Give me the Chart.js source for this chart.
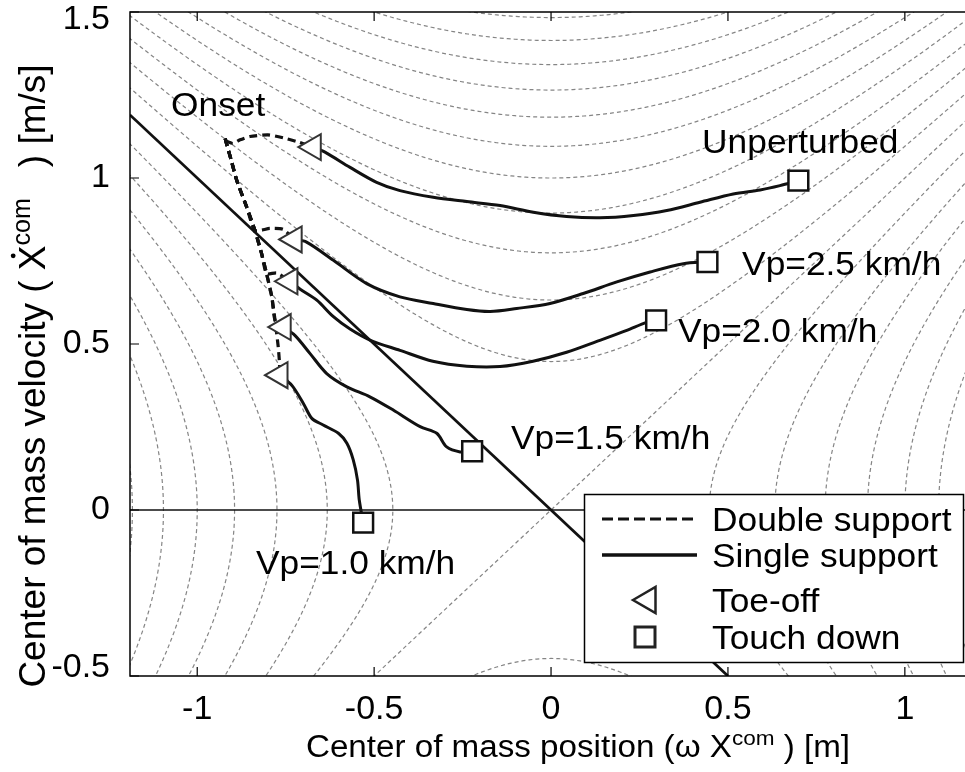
<!DOCTYPE html>
<html>
<head>
<meta charset="utf-8">
<title>Center of mass phase plane</title>
<script src="https://cdn.jsdelivr.net/npm/chart.js@4.4.1/dist/chart.umd.min.js"></script>
<style>
  html, body { margin: 0; padding: 0; background: #fff; }
  #wrap { width: 965px; height: 772px; }
</style>
</head>
<body>
<div id="wrap"><canvas id="chartCanvas" width="965" height="772"></canvas></div>
<script>
// axes
const xTicks = [-1, -0.5, 0, 0.5, 1];
const yTicks = [-0.5, 0, 0.5, 1, 1.5];
const xRange = [-1.19, 1.17];
const yRange = [-0.5, 1.5];

// levels of v^2 - x^2 for the dotted background curves
const energyLevels = [-1.4, -1.2, -1.0, -0.8, -0.6, -0.4, -0.2, 0, 0.2, 0.4, 0.6, 0.8, 1.0, 1.2, 1.4, 1.6, 1.8, 2.0, 2.2];

const captureLine = [[-1.19, 1.19], [0.5, -0.5]];
const zeroLine = [[-1.19, 0], [1.17, 0]];

// double support (dashed), from onset to toe-off
const unperturbedDouble = [[-0.921, 1.112], [-0.899, 1.104], [-0.879, 1.115], [-0.851, 1.125], [-0.800, 1.130], [-0.757, 1.121], [-0.716, 1.109], [-0.672, 1.093]];
const vp25Double = [[-0.921, 1.119], [-0.917, 1.103], [-0.903, 1.050], [-0.888, 0.992], [-0.860, 0.912], [-0.837, 0.842], [-0.795, 0.848], [-0.757, 0.845], [-0.726, 0.815]];
const vp20Double = [[-0.921, 1.119], [-0.917, 1.103], [-0.903, 1.050], [-0.888, 0.992], [-0.860, 0.912], [-0.837, 0.842], [-0.818, 0.772], [-0.804, 0.712], [-0.775, 0.714], [-0.738, 0.689]];
const vp15Double = [[-0.921, 1.119], [-0.917, 1.103], [-0.903, 1.050], [-0.888, 0.992], [-0.860, 0.912], [-0.837, 0.842], [-0.818, 0.772], [-0.804, 0.712], [-0.789, 0.641], [-0.780, 0.571], [-0.757, 0.551]];
const vp10Double = [[-0.921, 1.119], [-0.917, 1.103], [-0.903, 1.050], [-0.888, 0.992], [-0.860, 0.912], [-0.837, 0.842], [-0.818, 0.772], [-0.804, 0.712], [-0.789, 0.641], [-0.780, 0.571], [-0.771, 0.491], [-0.768, 0.451], [-0.766, 0.406]];

// single support (solid), from toe-off to touch down
const unperturbedSingle = [[-0.672, 1.093], [-0.639, 1.078], [-0.568, 1.032], [-0.493, 0.987], [-0.427, 0.962], [-0.333, 0.942], [-0.238, 0.929], [-0.144, 0.917], [-0.050, 0.897], [0.044, 0.884], [0.138, 0.880], [0.233, 0.887], [0.327, 0.902], [0.421, 0.927], [0.515, 0.952], [0.591, 0.964], [0.647, 0.977], [0.699, 0.992]];
const vp25Single = [[-0.726, 0.815], [-0.691, 0.807], [-0.615, 0.752], [-0.521, 0.682], [-0.427, 0.642], [-0.333, 0.622], [-0.238, 0.604], [-0.172, 0.598], [-0.097, 0.607], [-0.003, 0.622], [0.091, 0.652], [0.186, 0.687], [0.280, 0.717], [0.374, 0.742], [0.442, 0.747]];
const vp20Single = [[-0.738, 0.689], [-0.709, 0.665], [-0.662, 0.632], [-0.616, 0.583], [-0.568, 0.545], [-0.512, 0.512], [-0.427, 0.481], [-0.334, 0.448], [-0.238, 0.433], [-0.144, 0.432], [-0.051, 0.448], [0.044, 0.475], [0.138, 0.511], [0.214, 0.541], [0.270, 0.565], [0.297, 0.571]];
const vp15Single = [[-0.757, 0.551], [-0.724, 0.526], [-0.681, 0.471], [-0.634, 0.411], [-0.577, 0.371], [-0.512, 0.341], [-0.446, 0.301], [-0.370, 0.251], [-0.323, 0.231], [-0.295, 0.190], [-0.257, 0.175], [-0.223, 0.177]];
const vp10Single = [[-0.766, 0.406], [-0.733, 0.376], [-0.700, 0.321], [-0.676, 0.276], [-0.644, 0.256], [-0.601, 0.231], [-0.577, 0.201], [-0.559, 0.151], [-0.547, 0.090], [-0.542, 0.030], [-0.531, -0.038]];

const curveLabels = ['Unperturbed', 'Vp=2.5 km/h', 'Vp=2.0 km/h', 'Vp=1.5 km/h', 'Vp=1.0 km/h'];
const legendLabels = ['Double support', 'Single support', 'Toe-off', 'Touch down'];

const FONT = "'Liberation Sans', Arial, Helvetica, sans-serif";
const STRETCH = 1.07; // text in the picture is a little wider than plain Arial

const toXY = pts => pts.map(p => ({ x: p[0], y: p[1] }));
const doubles = [unperturbedDouble, vp25Double, vp20Double, vp15Double, vp10Double];
const singles = [unperturbedSingle, vp25Single, vp20Single, vp15Single, vp10Single];

function lineSet(pts, opts) {
    return Object.assign({
        data: toXY(pts),
        showLine: true,
        borderColor: '#111',
        borderWidth: 3,
        pointRadius: 0,
        tension: 0.3,
        order: 1
    }, opts);
}

const datasets = [];
datasets.push(lineSet(zeroLine, { borderWidth: 1.3, tension: 0, order: 3 }));
datasets.push(lineSet(captureLine, { borderWidth: 2.8, tension: 0, order: 2 }));
doubles.forEach(d => datasets.push(lineSet(d, { borderWidth: 3.2, borderDash: [8, 5], tension: 0.2 })));
singles.forEach(s => datasets.push(lineSet(s, {})));
datasets.push({
    data: toXY(singles.map(s => s[0])),
    showLine: false,
    pointStyle: 'triangle',
    pointRotation: -90,
    pointRadius: 15,
    pointBorderWidth: 2,
    pointBorderColor: '#333',
    pointBackgroundColor: '#fff',
    order: 0
});
datasets.push({
    data: toXY(singles.map(s => s[s.length - 1])),
    showLine: false,
    pointStyle: 'rect',
    pointRadius: 14,
    pointBorderWidth: 2.5,
    pointBorderColor: '#111',
    pointBackgroundColor: '#fff',
    order: 0
});

function stretchText(ctx, str, x, y, size) {
    ctx.save();
    ctx.translate(x, y);
    ctx.scale(STRETCH, 1);
    ctx.font = size + 'px ' + FONT;
    ctx.fillText(str, 0, 0);
    ctx.restore();
}

// text with a raised "com" part
function richWidth(ctx, parts, size) {
    let w = 0;
    parts.forEach(p => {
        ctx.font = (p.sup ? size * 0.68 : size) + 'px ' + FONT;
        w += ctx.measureText(p.t).width;
    });
    return w;
}
function richText(ctx, parts, x, y, size) {
    let cx = x;
    parts.forEach(p => {
        const s = p.sup ? size * 0.68 : size;
        ctx.font = s + 'px ' + FONT;
        ctx.fillText(p.t, cx, p.sup ? y - size * 0.4 : y);
        const w = ctx.measureText(p.t).width;
        if (p.dot) {
            ctx.beginPath();
            ctx.arc(cx + w / 2 + 2, y - size * 0.86, size * 0.065, 0, Math.PI * 2);
            ctx.fill();
        }
        cx += w;
    });
}

function triangleLeft(ctx, cx, cy, r) {
    ctx.beginPath();
    ctx.moveTo(cx - r, cy);
    ctx.lineTo(cx + r / 2, cy - r * 0.866);
    ctx.lineTo(cx + r / 2, cy + r * 0.866);
    ctx.closePath();
    ctx.fill();
    ctx.stroke();
}

const AREA = { left: 130, top: 12, right: 965, bottom: 676 };

const phasePlane = {
    id: 'phasePlane',
    // pin the plot box to where it sits in the picture
    afterLayout(chart) {
        const ca = chart.chartArea;
        Object.assign(ca, AREA, { width: AREA.right - AREA.left, height: AREA.bottom - AREA.top });
        const { x, y } = chart.scales;
        Object.assign(x, { left: AREA.left, right: AREA.right, width: AREA.right - AREA.left, top: AREA.bottom, bottom: chart.height, height: chart.height - AREA.bottom });
        Object.assign(y, { left: 0, right: AREA.left, width: AREA.left, top: AREA.top, bottom: AREA.bottom, height: AREA.bottom - AREA.top });
        x.configure();
        y.configure();
    },
    beforeDatasetsDraw(chart) {
        const { ctx, chartArea: a, scales: { x, y } } = chart;
        ctx.save();
        ctx.beginPath();
        ctx.rect(a.left, a.top, a.right - a.left, a.bottom - a.top);
        ctx.clip();
        ctx.strokeStyle = '#858585';
        ctx.lineWidth = 1.2;
        ctx.setLineDash([4, 3]);
        const n = 240;
        const x0 = xRange[0] - 0.05, x1 = xRange[1] + 0.05;
        const y0 = yRange[0] - 0.05, y1 = yRange[1] + 0.05;
        energyLevels.forEach(c => {
            const branches = [];
            if (c > 0) {
                [1, -1].forEach(s => {
                    const pts = [];
                    for (let i = 0; i <= n; i++) {
                        const xv = x0 + (x1 - x0) * i / n;
                        pts.push([xv, s * Math.sqrt(c + xv * xv)]);
                    }
                    branches.push(pts);
                });
            } else if (c < 0) {
                [1, -1].forEach(s => {
                    const pts = [];
                    for (let i = 0; i <= n; i++) {
                        const yv = y0 + (y1 - y0) * i / n;
                        pts.push([s * Math.sqrt(-c + yv * yv), yv]);
                    }
                    branches.push(pts);
                });
            } else {
                branches.push([[x0, x0], [x1, x1]]);
                branches.push([[x0, -x0], [x1, -x1]]);
            }
            branches.forEach(pts => {
                ctx.beginPath();
                pts.forEach((p, i) => {
                    const px = x.getPixelForValue(p[0]);
                    const py = y.getPixelForValue(p[1]);
                    if (i) ctx.lineTo(px, py); else ctx.moveTo(px, py);
                });
                ctx.stroke();
            });
        });
        ctx.restore();
    },
    afterDatasetsDraw(chart) {
        const { ctx, chartArea: a, scales: { x, y } } = chart;
        ctx.save();

        // frame and inward ticks
        ctx.strokeStyle = '#000';
        ctx.lineWidth = 1.5;
        ctx.beginPath();
        ctx.moveTo(a.right + 2, a.top);
        ctx.lineTo(a.left, a.top);
        ctx.lineTo(a.left, a.bottom);
        ctx.lineTo(a.right + 2, a.bottom);
        ctx.stroke();
        ctx.lineWidth = 1.2;
        ctx.beginPath();
        xTicks.forEach(v => {
            const px = x.getPixelForValue(v);
            ctx.moveTo(px, a.bottom); ctx.lineTo(px, a.bottom - 9);
            ctx.moveTo(px, a.top); ctx.lineTo(px, a.top + 9);
        });
        yTicks.forEach(v => {
            const py = y.getPixelForValue(v);
            ctx.moveTo(a.left, py); ctx.lineTo(a.left + 9, py);
        });
        ctx.stroke();

        // curve labels
        ctx.fillStyle = '#000';
        ctx.textBaseline = 'alphabetic';
        ctx.textAlign = 'left';
        const anchors = [[0.427, 1.075], [0.540, 0.708], [0.359, 0.506], [-0.113, 0.184], [-0.834, -0.193]];
        curveLabels.forEach((t, i) => {
            stretchText(ctx, t, x.getPixelForValue(anchors[i][0]), y.getPixelForValue(anchors[i][1]), 33);
        });
        stretchText(ctx, 'Onset', x.getPixelForValue(-1.074), y.getPixelForValue(1.187), 33);

        // legend
        const L = { left: 584, top: 494, right: 963, bottom: 662 };
        ctx.fillStyle = '#fff';
        ctx.fillRect(L.left, L.top, L.right - L.left, L.bottom - L.top);
        ctx.strokeStyle = '#000';
        ctx.lineWidth = 1.5;
        ctx.strokeRect(L.left + 0.5, L.top + 0.5, L.right - L.left, L.bottom - L.top);
        const rows = [519, 555, 600, 637];
        ctx.strokeStyle = '#111';
        ctx.lineWidth = 2.8;
        ctx.setLineDash([11, 5]);
        ctx.beginPath(); ctx.moveTo(602, rows[0]); ctx.lineTo(697, rows[0]); ctx.stroke();
        ctx.setLineDash([]);
        ctx.lineWidth = 3.5;
        ctx.beginPath(); ctx.moveTo(602, rows[1]); ctx.lineTo(697, rows[1]); ctx.stroke();
        ctx.fillStyle = '#fff';
        ctx.strokeStyle = '#222';
        ctx.lineWidth = 2.5;
        triangleLeft(ctx, 648, rows[2], 15);
        ctx.lineWidth = 3;
        ctx.fillRect(635, rows[3] - 10, 20, 20);
        ctx.strokeRect(635, rows[3] - 10, 20, 20);
        ctx.fillStyle = '#000';
        legendLabels.forEach((t, i) => stretchText(ctx, t, 712, rows[i] + 12, 33));

        // axis titles
        const xParts = [{ t: 'Center of mass position (\u03c9 X' }, { t: 'com', sup: true }, { t: ' ) [m]' }];
        const xs = 31;
        ctx.save();
        const xw = richWidth(ctx, xParts, xs) * STRETCH;
        ctx.translate(578 - xw / 2, 757);
        ctx.scale(STRETCH, 1);
        richText(ctx, xParts, 0, 0, xs);
        ctx.restore();

        const yParts = [{ t: 'Center of mass velocity ( ' }, { t: 'X', dot: true }, { t: 'com', sup: true }, { t: '   ) [m/s]' }];
        const ys = 37;
        ctx.save();
        const yw = richWidth(ctx, yParts, ys);
        ctx.translate(45, 376);
        ctx.rotate(-Math.PI / 2);
        richText(ctx, yParts, -yw / 2, 0, ys);
        ctx.restore();

        ctx.restore();
    }
};

// end labels of the y axis sit a little inside the box, as in the picture
const isEndTick = c => c.tick && (c.tick.value === yRange[0] || c.tick.value === yRange[1]);

const ctx = document.getElementById('chartCanvas').getContext('2d');
new Chart(ctx, {
    type: 'scatter',
    data: { datasets: datasets },
    options: {
        responsive: false,
        animation: false,
        events: [],
        layout: { padding: { top: 12, right: 0, bottom: 0, left: 0 } },
        plugins: { legend: { display: false }, tooltip: { enabled: false } },
        scales: {
            x: {
                type: 'linear',
                min: xRange[0],
                max: xRange[1],
                grid: { display: false },
                border: { display: false },
                afterBuildTicks: scale => { scale.ticks = xTicks.map(v => ({ value: v })); },
                afterFit: scale => {
                    scale.height = 96;
                    scale.paddingLeft = 0;
                    scale.paddingRight = 0;
                },
                ticks: {
                    autoSkip: false,
                    maxRotation: 0,
                    padding: 5,
                    color: '#000',
                    font: { family: FONT, size: 34 },
                    callback: v => String(v)
                }
            },
            y: {
                type: 'linear',
                min: yRange[0],
                max: yRange[1],
                grid: { display: false },
                border: { display: false },
                afterBuildTicks: scale => { scale.ticks = yTicks.map(v => ({ value: v })); },
                afterFit: scale => {
                    scale.width = 130;
                    scale.paddingTop = 0;
                    scale.paddingBottom = 0;
                },
                ticks: {
                    autoSkip: false,
                    padding: 12,
                    color: '#000',
                    font: c => ({ family: FONT, size: 34, lineHeight: isEndTick(c) ? '16px' : 1.2 }),
                    callback: v => v === yRange[1] ? ['', String(v)] : (v === yRange[0] ? [String(v), ''] : String(v))
                }
            }
        }
    },
    plugins: [phasePlane]
});
</script>
</body>
</html>
